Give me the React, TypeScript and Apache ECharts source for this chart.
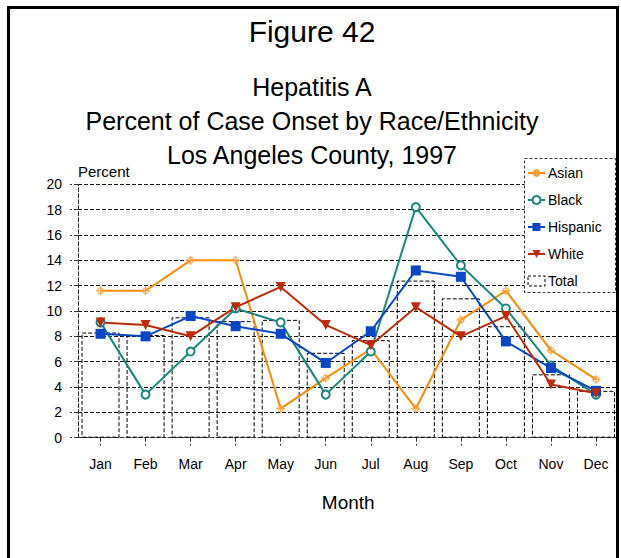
import React, { useEffect, useRef } from "react";
import * as echarts from "echarts";

const months = ["Jan", "Feb", "Mar", "Apr", "May", "Jun", "Jul", "Aug", "Sep", "Oct", "Nov", "Dec"];
const asian = [11.6, 11.6, 14.0, 14.0, 2.3, 4.7, 7.0, 2.3, 9.3, 11.6, 6.9, 4.6];
const black = [9.1, 3.4, 6.8, 10.2, 9.1, 3.4, 6.8, 18.2, 13.6, 10.2, 5.7, 3.4];
const hispanic = [8.2, 8.0, 9.6, 8.8, 8.2, 5.9, 8.4, 13.2, 12.7, 7.6, 5.5, 3.7];
const white = [9.1, 8.9, 8.0, 10.3, 11.9, 8.9, 7.3, 10.3, 8.0, 9.6, 4.2, 3.5];
const total = [8.3, 8.1, 9.5, 9.2, 9.3, 6.7, 7.7, 12.4, 11.0, 8.8, 5.0, 3.7];

const titleLines = ["Hepatitis A", "Percent of Case Onset by Race/Ethnicity", "Los Angeles County, 1997"];
const FONT = "'Liberation Sans', Arial, Helvetica, sans-serif";

const asianSymbol = "path://M-4,0 A4,4 0 1,0 4,0 A4,4 0 1,0 -4,0 Z M-6,0 L6,0 M0,-6 L0,6";

export default function App() {
  const ref = useRef<HTMLDivElement>(null);
  useEffect(() => {
    if (!ref.current) return;
    const chart = echarts.init(ref.current, undefined, { renderer: "svg" });
    const dash = [4, 2];
    chart.setOption({
      animation: false,
      backgroundColor: "#fff",
      textStyle: { fontFamily: FONT },
      grid: { left: 78, right: 2.5, top: 184.3, bottom: 120.3, containLabel: false },
      xAxis: {
        type: "category",
        data: months,
        boundaryGap: true,
        name: "Month",
        nameLocation: "middle",
        nameGap: 55,
        nameTextStyle: { fontSize: 19, color: "#000", fontFamily: FONT },
        axisLine: { show: true, lineStyle: { color: "#333", width: 1, type: dash } },
        axisTick: { show: true, alignWithLabel: true, length: 8, lineStyle: { color: "#333", type: dash } },
        axisLabel: { color: "#000", fontSize: 14, margin: 19, fontFamily: FONT },
        splitLine: { show: false },
      },
      yAxis: {
        type: "value",
        min: 0,
        max: 20,
        interval: 2,
        axisLine: { show: true, lineStyle: { color: "#333", width: 1, type: dash } },
        axisTick: { show: true, length: 8, lineStyle: { color: "#333", type: dash } },
        axisLabel: { color: "#000", fontSize: 14, margin: 16, fontFamily: FONT },
        splitLine: { show: true, lineStyle: { color: "#111", width: 1, type: dash } },
      },
      legend: {
        orient: "vertical",
        left: 524,
        top: 159,
        padding: [7, 4, 6, 3],
        itemGap: 13,
        itemWidth: 17,
        itemHeight: 10,
        z: 10,
        textStyle: { fontSize: 14, color: "#000", fontFamily: FONT, padding: [0, 0, 0, -2] },
        data: [
          { name: "Asian" },
          { name: "Black" },
          { name: "Hispanic" },
          { name: "White" },
          {
            name: "Total",
            icon: "rect",
            itemStyle: { color: "rgba(0,0,0,0)", borderColor: "#000", borderWidth: 1, borderType: [3, 2] },
          },
        ],
      },
      graphic: [
        {
          type: "rect",
          z: 5,
          shape: { x: 524.5, y: 158.5, width: 91, height: 134 },
          style: { fill: "#fff", stroke: "#333", lineWidth: 1, lineDash: [3, 2] },
        },
        {
          type: "text",
          z: 5,
          x: 312,
          y: 31.5,
          style: { text: "Figure 42", font: `30px ${FONT}`, fill: "#000", textAlign: "center", textVerticalAlign: "middle" },
        },
        ...titleLines.map((t, i) => ({
          type: "text",
          z: 5,
          x: 312,
          y: 87 + i * 34,
          style: { text: t, font: `25px ${FONT}`, fill: "#000", textAlign: "center", textVerticalAlign: "middle" },
        })),
        {
          type: "text",
          z: 5,
          x: 78,
          y: 171,
          style: { text: "Percent", font: `15px ${FONT}`, fill: "#000", textAlign: "left", textVerticalAlign: "middle" },
        },
        {
          type: "rect",
          z: 19,
          shape: { x: 619, y: 0, width: 10, height: 600 },
          style: { fill: "#fff" },
        },
        {
          type: "rect",
          z: 20,
          shape: { x: 8.5, y: 7.5, width: 609, height: 600 },
          style: { fill: "none", stroke: "#000", lineWidth: 3 },
        },
      ],
      series: [
        {
          name: "Total",
          type: "bar",
          data: total,
          barWidth: 38,
          z: 1,
          itemStyle: { color: "rgba(0,0,0,0)", borderColor: "#000", borderWidth: 1, borderType: [4, 2] },
        },
        {
          name: "Asian",
          type: "line",
          data: asian,
          symbol: asianSymbol,
          symbolSize: 9,
          z: 3,
          lineStyle: { color: "#ff8a00", width: 2 },
          itemStyle: { color: "rgba(255,255,255,0)", borderColor: "#ffa040", borderWidth: 1 },
        },
        {
          name: "Black",
          type: "line",
          data: black,
          symbol: "emptyCircle",
          symbolSize: 8,
          z: 3,
          lineStyle: { color: "#17877f", width: 2 },
          itemStyle: { color: "#17877f", borderColor: "#3aa39b", borderWidth: 1 },
        },
        {
          name: "Hispanic",
          type: "line",
          data: hispanic,
          symbol: "rect",
          symbolSize: 10,
          z: 3,
          lineStyle: { color: "#0a47c4", width: 2 },
          itemStyle: { color: "#0a47c4" },
        },
        {
          name: "White",
          type: "line",
          data: white,
          symbol: "triangle",
          symbolRotate: 180,
          symbolSize: 10,
          z: 3,
          lineStyle: { color: "#c02a08", width: 2 },
          itemStyle: { color: "#c02a08" },
        },
      ],
    });
    return () => chart.dispose();
  }, []);
  return (
    <div
      ref={ref}
      style={{ position: "fixed", left: 0, top: 0, width: 621, height: 558, background: "#fff" }}
    />
  );
}
